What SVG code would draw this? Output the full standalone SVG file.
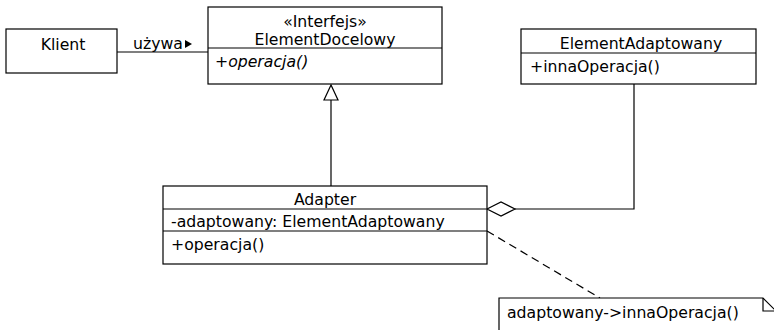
<svg xmlns="http://www.w3.org/2000/svg" width="774" height="330" viewBox="0 0 774 330">
<style>
text{font-family:"DejaVu Sans",sans-serif;font-size:15.7px;fill:#000}
.c{text-anchor:middle}
.box{fill:#fff;stroke:#000;stroke-width:1.2}
.ln{fill:none;stroke:#000;stroke-width:1.2}
</style>
<rect width="774" height="330" fill="#fff"/>
<g id="connectors">
<line class="ln" x1="117" y1="52" x2="208" y2="52"/>
<text x="133" y="49">używa</text>
<polygon points="185,40 192,44 185,48" fill="#000"/>
<line class="ln" x1="331" y1="186" x2="331" y2="100"/>
<polygon points="331,85 324,100 338,100" fill="#fff" stroke="#000" stroke-width="1.2"/>
<polyline class="ln" points="515,209 634,209 634,84"/>
<polygon points="487,209 501,202 515,209 501,216" fill="#fff" stroke="#000" stroke-width="1.2"/>
<line class="ln" x1="487" y1="231" x2="600" y2="298" stroke-dasharray="8,5"/>
</g>
<g id="klient">
<rect class="box" x="6" y="29" width="111" height="44"/>
<text class="c" x="63" y="50">Klient</text>
</g>
<g id="elementDocelowy">
<rect class="box" x="208" y="7" width="234" height="77"/>
<line class="ln" x1="208" y1="48" x2="442" y2="48"/>
<text class="c" x="325" y="27">«Interfejs»</text>
<text class="c" x="325" y="45">ElementDocelowy</text>
<text x="215" y="67" font-style="italic">+operacja()</text>
</g>
<g id="elementAdaptowany">
<rect class="box" x="521" y="29" width="235" height="55"/>
<line class="ln" x1="521" y1="53" x2="756" y2="53"/>
<text class="c" x="641" y="49">ElementAdaptowany</text>
<text x="530" y="72">+innaOperacja()</text>
</g>
<g id="adapter">
<rect class="box" x="163" y="186" width="324" height="78"/>
<line class="ln" x1="163" y1="209" x2="487" y2="209"/>
<line class="ln" x1="163" y1="231" x2="487" y2="231"/>
<text class="c" x="325" y="205">Adapter</text>
<text x="171" y="227">-adaptowany: ElementAdaptowany</text>
<text x="171" y="250">+operacja()</text>
</g>
<g id="note">
<polygon class="box" points="499,340 499,298 763,298 776,311 776,340"/>
<polyline class="ln" points="763,298 763,311 776,311"/>
<text x="507" y="318">adaptowany-&gt;innaOperacja()</text>
</g>
</svg>
